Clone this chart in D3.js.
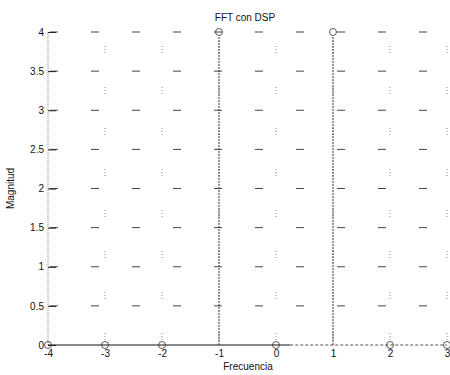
<!DOCTYPE html>
<html>
<head>
<meta charset="utf-8">
<script src="https://cdn.jsdelivr.net/npm/d3@7"></script>
<style>
  body { margin: 0; background: #fff; }
  text { font-family: "Liberation Sans", Arial, sans-serif; fill: #111; }
</style>
</head>
<body>
<div id="chart"></div>
<script>
// FFT bins and magnitudes
const freqs = [-4, -3, -2, -1, 0, 1, 2, 3];
const mags = [0, 0, 0, 4, 0, 4, 0, 0];
const xTicks = [-4, -3, -2, -1, 0, 1, 2, 3];
const yTicks = [0, 0.5, 1, 1.5, 2, 2.5, 3, 3.5, 4];

const width = 450, height = 375;
const margin = { top: 32, right: 3, bottom: 30, left: 48 };
const innerW = width - margin.left - margin.right;
const innerH = height - margin.top - margin.bottom;

const svg = d3.select("#chart").append("svg")
  .attr("width", width)
  .attr("height", height);

const g = svg.append("g")
  .attr("transform", "translate(" + margin.left + "," + margin.top + ")");

const x = d3.scaleLinear().domain([-4, 3]).range([0, innerW]);
const y = d3.scaleLinear().domain([0, 4]).range([innerH, 0]);

// grid (scanned dotted lines look like short dashes)
g.append("g").selectAll("line")
  .data(yTicks.filter(d => d > 0))
  .enter().append("line")
  .attr("x1", 0).attr("x2", innerW)
  .attr("y1", d => y(d)).attr("y2", d => y(d))
  .attr("stroke", "#444")
  .attr("stroke-width", 1)
  .attr("stroke-dasharray", "8,33")
  .attr("stroke-dashoffset", -2);

g.append("g").selectAll("line")
  .data(xTicks.filter(d => d > -4))
  .enter().append("line")
  .attr("x1", d => x(d)).attr("x2", d => x(d))
  .attr("y1", 0).attr("y2", innerH)
  .attr("stroke", "#888")
  .attr("stroke-width", 1)
  .attr("stroke-dasharray", "1,2,1,2,1,34")
  .attr("stroke-dashoffset", -14);

// y axis (left edge, faint dotted)
g.append("line")
  .attr("x1", 0).attr("x2", 0)
  .attr("y1", 0).attr("y2", innerH)
  .attr("stroke", "#888")
  .attr("stroke-dasharray", "1,1");

const yAxis = d3.axisLeft(y).tickValues(yTicks).tickSize(-8).tickPadding(6)
  .tickFormat(d => String(d));
const ya = g.append("g").call(yAxis);
ya.select(".domain").remove();
ya.selectAll("line").attr("stroke", "#222");
ya.selectAll("text").style("font-size", "10px").attr("x", -4);

// x baseline
g.append("line")
  .attr("x1", 0).attr("x2", x(0.25))
  .attr("y1", innerH).attr("y2", innerH)
  .attr("stroke", "#111");
g.append("line")
  .attr("x1", x(0.25)).attr("x2", innerW)
  .attr("y1", innerH).attr("y2", innerH)
  .attr("stroke", "#555")
  .attr("stroke-dasharray", "3,2");

const xAxis = d3.axisBottom(x).tickValues(xTicks).tickSize(0).tickPadding(5)
  .tickFormat(d => String(d));
const xa = g.append("g").attr("transform", "translate(0," + innerH + ")").call(xAxis);
xa.select(".domain").remove();
xa.selectAll("text").style("font-size", "10px");

// stems
g.append("g").selectAll("line")
  .data(freqs.map((f, i) => ({ f: f, m: mags[i] })).filter(d => d.m > 0))
  .enter().append("line")
  .attr("x1", d => x(d.f)).attr("x2", d => x(d.f))
  .attr("y1", y(0)).attr("y2", d => y(d.m) + 4)
  .attr("stroke", "#333")
  .attr("stroke-dasharray", "2,1");

g.append("g").selectAll("circle")
  .data(freqs.map((f, i) => ({ f: f, m: mags[i] })))
  .enter().append("circle")
  .attr("cx", d => x(d.f))
  .attr("cy", d => y(d.m))
  .attr("r", 3.5)
  .attr("fill", "none")
  .attr("stroke", "#333")
  .attr("stroke-width", 0.8);

// labels
svg.append("text")
  .attr("x", 245).attr("y", 21)
  .attr("text-anchor", "middle")
  .style("font-size", "10px")
  .text("FFT con DSP");

svg.append("text")
  .attr("x", 248).attr("y", 370)
  .attr("text-anchor", "middle")
  .style("font-size", "10px")
  .text("Frecuencia");

svg.append("text")
  .attr("transform", "translate(14," + (margin.top + innerH / 2) + ") rotate(-90)")
  .attr("text-anchor", "middle")
  .style("font-size", "10px")
  .text("Magnitud");
</script>
</body>
</html>
